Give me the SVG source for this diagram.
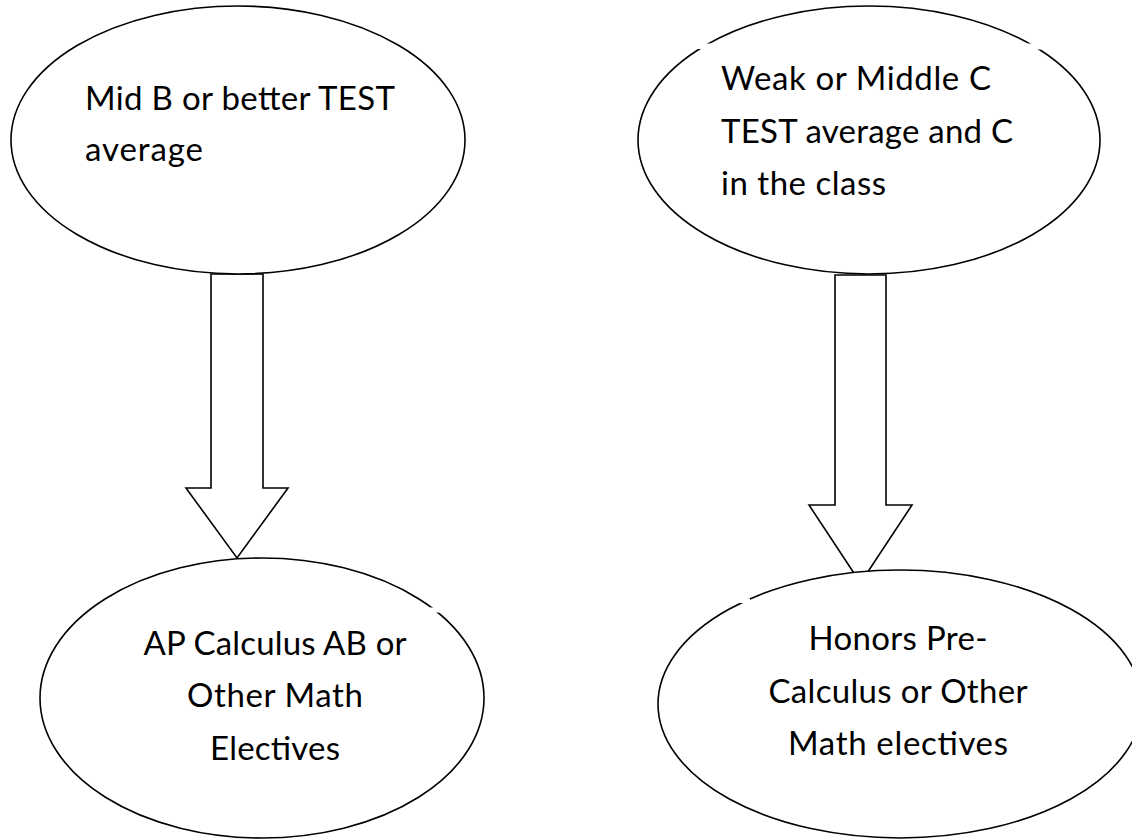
<svg xmlns="http://www.w3.org/2000/svg" width="1132" height="840" viewBox="0 0 1132 840">
<style>
.bg{fill:#ffffff}
.shape{fill:#ffffff;stroke:#000000;stroke-width:1.6}
.arrow{fill:#ffffff;stroke:#000000;stroke-width:1.6;stroke-linejoin:miter}
.gap{fill:#ffffff;stroke:none}
text{font-family:Lato,"Open Sans","Liberation Sans",sans-serif;font-size:33px;fill:#000000}
.c{text-anchor:middle}
</style>
<rect class="bg" x="0" y="0" width="1132" height="840"/>
<g id="connectors">
<polygon class="arrow" points="211,274 263,274 263,488 288,488 237,558 186,488 211,488"/>
<polygon class="arrow" points="835,275 886,275 886,505 912,505 860.5,583 809,505 835,505"/>
</g>
<g id="node-mid-b">
<ellipse class="shape" cx="238" cy="140" rx="227" ry="134"/>
<text x="85" y="110" textLength="310" lengthAdjust="spacing">Mid B or better TEST</text>
<text x="85" y="161" textLength="118" lengthAdjust="spacing">average</text>
</g>
<g id="node-weak-c">
<ellipse class="shape" cx="869" cy="140" rx="231" ry="134"/>
<rect class="gap" x="697" y="43.5" width="15" height="5.5"/>
<rect class="gap" x="1026" y="43.5" width="15" height="6"/>
<text x="721" y="90" textLength="270" lengthAdjust="spacing">Weak or Middle C</text>
<text x="721" y="143" textLength="292" lengthAdjust="spacing">TEST average and C</text>
<text x="721" y="195" textLength="165" lengthAdjust="spacing">in the class</text>
</g>
<g id="node-ap-calc">
<ellipse class="shape" cx="262" cy="698" rx="222" ry="140"/>
<rect class="gap" x="429" y="607.5" width="12" height="5"/>
<text class="c" x="275" y="655" textLength="263" lengthAdjust="spacing">AP Calculus AB or</text>
<text class="c" x="275" y="707" textLength="176" lengthAdjust="spacing">Other Math</text>
<text class="c" x="275" y="760" textLength="130" lengthAdjust="spacing">Electives</text>
</g>
<g id="node-honors-precalc">
<ellipse class="shape" cx="900" cy="704" rx="242" ry="134"/>
<rect class="gap" x="738" y="598.5" width="12" height="4.5"/>
<text class="c" x="898" y="650" textLength="179" lengthAdjust="spacing">Honors Pre-</text>
<text class="c" x="898" y="703" textLength="259" lengthAdjust="spacing">Calculus or Other</text>
<text class="c" x="898" y="755" textLength="220" lengthAdjust="spacing">Math electives</text>
</g>
</svg>
